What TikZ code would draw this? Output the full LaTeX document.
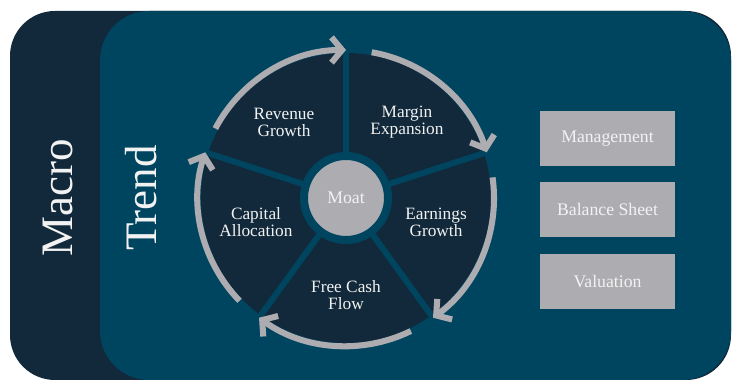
\documentclass[tikz,border=0pt]{standalone}
\usepackage{fontspec}
\setmainfont{Liberation Serif}
\usepackage{tikz}
\usetikzlibrary{arrows.meta, positioning}
\usepackage{xcolor}

\definecolor{macrodark}{RGB}{17,41,58}
\definecolor{trendblue}{RGB}{0,69,96}
\definecolor{moatgray}{RGB}{173,172,177}
\definecolor{labelwhite}{RGB}{242,242,242}

\begin{document}
\begin{tikzpicture}[x=0.025cm, y=0.025cm,
        seglabel/.style={text=labelwhite, align=center, font=\fontsize{12.3}{12}\selectfont},
        spoke/.style={draw=trendblue, line width=4.3pt},
        cycle/.style={draw=moatgray, line width=4.3pt, -{Straight Barb[length=7.5pt, width=18pt]}},
        sidebox/.style={fill=moatgray, text=labelwhite, minimum width=95.7pt, minimum height=39pt, inner sep=0pt, font=\fontsize{12.6}{12}\selectfont},
        bigword/.style={text=labelwhite, rotate=90, font=\fontsize{32}{32}\selectfont},
        moat/.style={circle, fill=moatgray, draw=trendblue, line width=5.7pt, minimum size=2.1cm, inner sep=0pt, text=labelwhite, font=\fontsize{12.6}{12}\selectfont}]

            \useasboundingbox (0,0) rectangle (732,381);

            % the two bands
            \fill[macrodark, rounded corners=32] (10,1) rectangle (731,370);
            \fill[trendblue, rounded corners=35] (100,1) rectangle (731,370);

            \node[bigword] (macro) at (58,183) {Macro};
            \node[bigword] (trend) at (141,183) {Trend};

            % wheel
            \coordinate (c) at (346,183);
            \fill[macrodark] (c) circle (145);
            \foreach \a in {90,18,-54,-126,162}
                \draw[spoke] (c) -- ++(\a:152);

            \foreach \b/\e in {152/90, 80/18, 8/-54, -64/-126, -136/-198}
                \draw[cycle] (c) ++(\b:148) arc[start angle=\b, end angle=\e, radius=148];

            \node[moat] (moatnode) at (c) {Moat};

            \node[seglabel] (revenue) at ([shift={(-62,76)}]c) {Revenue\\Growth};
            \node[seglabel] (margin) at ([shift={(61,76)}]c) {Margin\\Expansion};
            \node[seglabel] (earnings) at ([shift={(90,-24)}]c) {Earnings\\Growth};
            \node[seglabel] (fcf) at ([shift={(0,-97)}]c) {Free Cash\\Flow};
            \node[seglabel] (capital) at ([shift={(-90,-24)}]c) {Capital\\Allocation};

            % right column
            \node[sidebox] (mgmt) at (607.5,242.5) {Management};
            \node[sidebox, below=11.3pt of mgmt] (balance) {Balance Sheet};
            \node[sidebox, below=11.3pt of balance] (valuation) {Valuation};
        \end{tikzpicture}
\end{document}
